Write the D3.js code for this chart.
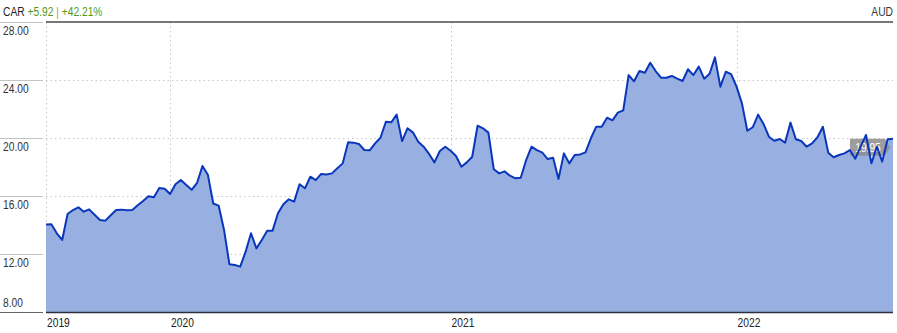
<!DOCTYPE html>
<html>
<head>
<meta charset="utf-8">
<style>
  body { margin: 0; background: #fff; }
  text { font-family: "Liberation Sans", Arial, sans-serif; font-size: 12.5px; }
  .grid line { stroke: #c8c8c8; stroke-dasharray: 1.5,3; }
</style>
</head>
<body>
<svg width="897" height="333"></svg>
<script src="https://cdn.jsdelivr.net/npm/d3@7"></script>
<script>

// weekly closes (Fridays), Jul 2019 - Jul 2022
var prices = [
  14.03, 14.05, 13.43, 12.97, 14.76, 15.03, 15.22, 14.92, 15.08, 14.71,
  14.34, 14.30, 14.67, 15.03, 15.06, 15.01, 15.03, 15.36, 15.66, 15.98,
  15.91, 16.55, 16.50, 16.14, 16.81, 17.10, 16.76, 16.43, 16.90, 18.07,
  17.47, 15.48, 15.34, 13.66, 11.29, 11.24, 11.13, 12.16, 13.43, 12.39,
  12.97, 13.61, 13.61, 14.81, 15.43, 15.77, 15.61, 16.81, 16.53, 17.33,
  17.10, 17.52, 17.49, 17.56, 17.91, 18.25, 19.70, 19.68, 19.59, 19.17,
  19.15, 19.63, 20.02, 21.12, 21.08, 21.61, 19.79, 20.67, 20.39, 19.74,
  19.40, 18.90, 18.32, 19.10, 19.40, 19.12, 18.76, 18.02, 18.32, 18.71,
  20.85, 20.67, 20.37, 17.84, 17.56, 17.70, 17.40, 17.22, 17.26, 18.48,
  19.40, 19.17, 18.99, 18.55, 18.64, 17.18, 18.94, 18.25, 18.83, 18.87,
  19.01, 19.98, 20.78, 20.78, 21.40, 21.22, 21.75, 21.91, 24.34, 23.91,
  24.62, 24.50, 25.19, 24.62, 24.16, 24.16, 24.28, 24.09, 23.93, 24.74,
  24.34, 24.92, 24.09, 24.43, 25.56, 23.54, 24.57, 24.41, 23.54, 22.39,
  20.50, 20.74, 21.61, 20.97, 20.09, 19.81, 19.93, 19.68, 21.06, 19.91,
  19.79, 19.40, 19.63, 20.05, 20.78, 18.99, 18.67, 18.83, 18.94, 19.17,
  18.57, 19.40, 20.21, 18.25, 19.40, 18.37, 19.91, 19.95
];

// first week of each year in the series
var yearIndex = [0, 23, 75, 128];
var yearLabels = ["2019", "2020", "2021", "2022"];

var yTicks = [8, 12, 16, 20, 24, 28];

var ticker = "CAR";
var change = "+5.92";
var changePct = "+42.21%";
var currency = "AUD";

var svg = d3.select("svg");

var plotLeft = 46, plotRight = 893, plotTop = 22, plotBottom = 312;

var x = d3.scaleLinear()
    .domain([0, prices.length - 1])
    .range([plotLeft, plotRight]);

var y = d3.scaleLinear()
    .domain([8, 28])
    .range([plotBottom, plotTop]);

// narrow text: squeeze Liberation Sans horizontally
function narrow(sel, px, py) {
  return sel.append("text")
      .attr("transform", "translate(" + px + "," + py + ") scale(0.82,1)");
}

// grid
var grid = svg.append("g").attr("class", "grid");
grid.selectAll("line.h")
    .data(yTicks.filter(function(d) { return d > 8 && d < 28; }))
    .enter().append("line")
    .attr("class", "h")
    .attr("x1", plotLeft).attr("x2", plotRight)
    .attr("y1", function(d) { return y(d) + 0.5; })
    .attr("y2", function(d) { return y(d) + 0.5; });
grid.selectAll("line.v")
    .data(yearIndex)
    .enter().append("line")
    .attr("class", "v")
    .attr("x1", function(d) { return Math.round(x(d)) + 0.5; })
    .attr("x2", function(d) { return Math.round(x(d)) + 0.5; })
    .attr("y1", plotTop).attr("y2", plotBottom);

// left label rules
svg.append("g").selectAll("line")
    .data(yTicks)
    .enter().append("line")
    .attr("x1", 0).attr("x2", 43)
    .attr("y1", function(d) { return Math.round(y(d)) + 0.5; })
    .attr("y2", function(d) { return Math.round(y(d)) + 0.5; })
    .attr("stroke", function(d) { return d === 8 ? "#666" : "#c4c4c4"; })
    .attr("stroke-width", 1);

// y labels
var yLab = svg.append("g");
yTicks.forEach(function(d) {
  narrow(yLab, 3, d === 8 ? y(d) - 5 : y(d) + 13)
      .attr("fill", "#333")
      .text(d3.format(".2f")(d));
});

// area + line
var area = d3.area()
    .x(function(d, i) { return x(i); })
    .y0(plotBottom)
    .y1(function(d) { return y(d); });

var line = d3.line()
    .x(function(d, i) { return x(i); })
    .y(function(d) { return y(d); });

svg.append("path")
    .datum(prices)
    .attr("d", area)
    .attr("fill", "#98b0e1");

// last price tag
var last = prices[prices.length - 1];
var tagY = y(last);
svg.append("path")
    .attr("d", "M850," + tagY + " L885," + tagY + " L890," + (tagY + 8.5) + " L885," + (tagY + 17) + " L850," + (tagY + 17) + " Z")
    .attr("fill", "#8c8c8c")
    .attr("fill-opacity", 0.85);
narrow(svg, 868, tagY + 13)
    .attr("text-anchor", "middle")
    .attr("fill", "#fff")
    .text(d3.format(".2f")(last));

svg.append("path")
    .datum(prices)
    .attr("d", line)
    .attr("fill", "none")
    .attr("stroke", "#0a36bb")
    .attr("stroke-width", 2)
    .attr("stroke-linejoin", "round");

// frame lines
svg.append("line")
    .attr("x1", plotLeft).attr("x2", plotRight)
    .attr("y1", plotTop).attr("y2", plotTop)
    .attr("stroke", "#4a4a4a").attr("stroke-width", 1.5);
svg.append("line")
    .attr("x1", plotLeft).attr("x2", plotRight)
    .attr("y1", plotBottom + 0.5).attr("y2", plotBottom + 0.5)
    .attr("stroke", "#2a3040").attr("stroke-width", 1.5);

// x labels
var xLab = svg.append("g");
yearIndex.forEach(function(d, i) {
  narrow(xLab, x(d) + 1, 327)
      .attr("fill", "#222")
      .text(yearLabels[i]);
});

// header
var head = narrow(svg, 3, 16);
head.append("tspan").attr("fill", "#222").text(ticker + " ");
head.append("tspan").attr("fill", "#4f9a1c").text(change + " ");
head.append("tspan").attr("fill", "#c9a400").text("|");
head.append("tspan").attr("fill", "#4f9a1c").text(" " + changePct);

narrow(svg, 893, 16)
    .attr("text-anchor", "end")
    .attr("fill", "#333")
    .text(currency);

</script>
</body>
</html>
